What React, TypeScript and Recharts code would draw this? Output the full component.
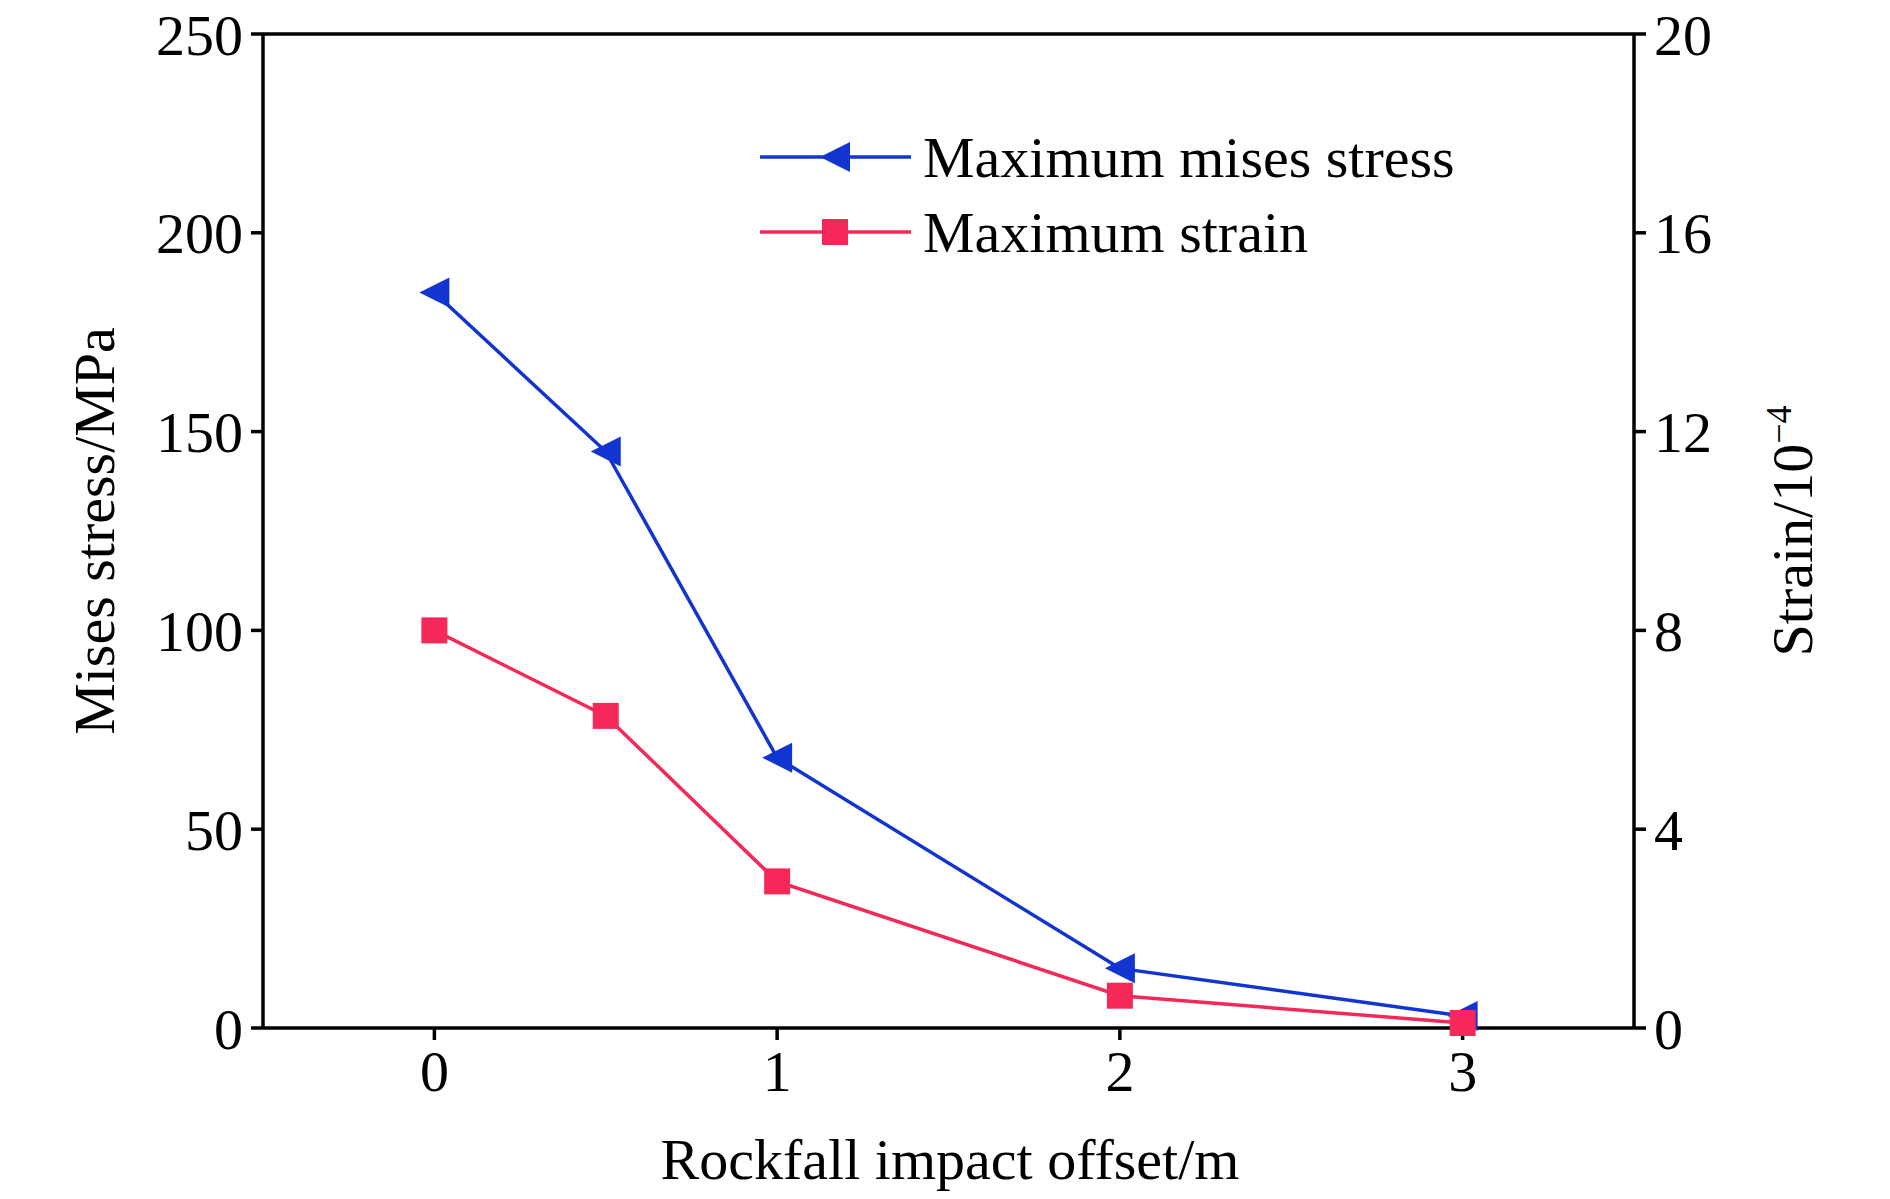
import React from 'react';
import { LineChart, Line, XAxis, YAxis, ReferenceLine } from 'recharts';

const offsets = [0, 0.5, 1, 2, 3];
const stress = [185, 145, 68, 15, 3];
const strain = [8, 6.28, 2.95, 0.65, 0.1];
const xTicks = [0, 1, 2, 3];
const leftTicks = [0, 50, 100, 150, 200, 250];
const rightTicks = [0, 4, 8, 12, 16, 20];

const data = offsets.map((x, i) => ({ x, stress: stress[i], strain: strain[i] }));

const BLUE = '#1234d0';
const RED = '#f5285a';
const FONT = '"Liberation Serif", "Times New Roman", serif';
const tickStyle = { fontFamily: FONT, fontSize: 58, fill: '#000' };

const Tri = (p: any) => {
  const { cx, cy } = p;
  if (cx == null || cy == null) return null;
  const s = 15;
  return <polygon points={`${cx - s},${cy} ${cx + s},${cy - s} ${cx + s},${cy + s}`} fill={BLUE} />;
};
const Sq = (p: any) => {
  const { cx, cy } = p;
  if (cx == null || cy == null) return null;
  return <rect x={cx - 13} y={cy - 13} width={26} height={26} fill={RED} />;
};

export default function App() {
  return (
    <div style={{ position: 'absolute', left: 0, top: 0, width: 1890, height: 1199, background: '#fff', fontFamily: FONT }}>
      <LineChart width={1890} height={1199} data={data} margin={{ top: 34, right: 0, bottom: 0, left: 0 }}>
        <XAxis dataKey="x" type="number" domain={[-0.5, 3.5]} ticks={xTicks} height={171}
          tick={tickStyle} tickSize={12} tickMargin={10} stroke="#000" strokeWidth={3.5} />
        <YAxis yAxisId="l" domain={[0, 250]} ticks={leftTicks} width={263}
          tick={tickStyle} tickSize={12} tickMargin={8} stroke="#000" strokeWidth={3.5} />
        <YAxis yAxisId="r" orientation="right" domain={[0, 20]} ticks={rightTicks} width={256}
          tick={tickStyle} tickSize={12} tickMargin={8} stroke="#000" strokeWidth={3.5} />
        <ReferenceLine yAxisId="l" y={250} stroke="#000" strokeWidth={3.5} />
        <Line yAxisId="l" dataKey="stress" stroke={BLUE} strokeWidth={3.5} dot={<Tri />} isAnimationActive={false} />
        <Line yAxisId="r" dataKey="strain" stroke={RED} strokeWidth={3.5} dot={<Sq />} isAnimationActive={false} />
      </LineChart>
      <div style={{ position: 'absolute', left: 94, top: 531, transform: 'translate(-50%,-50%) rotate(-90deg)', fontSize: 58, whiteSpace: 'nowrap' }}>Mises stress/MPa</div>
      <div style={{ position: 'absolute', left: 1792, top: 531, transform: 'translate(-50%,-50%) rotate(-90deg)', fontSize: 58, whiteSpace: 'nowrap' }}>Strain/10<sup style={{ fontSize: 36 }}>−4</sup></div>
      <div style={{ position: 'absolute', left: 950, top: 1159, transform: 'translate(-50%,-50%)', fontSize: 58, whiteSpace: 'nowrap' }}>Rockfall impact offset/m</div>
      <svg style={{ position: 'absolute', left: 0, top: 0 }} width={1890} height={300}>
        <line x1={760} x2={911} y1={157} y2={157} stroke={BLUE} strokeWidth={3.5} />
        <polygon points="820,157 850,142 850,172" fill={BLUE} />
        <line x1={760} x2={911} y1={232} y2={232} stroke={RED} strokeWidth={3.5} />
        <rect x={822} y={219} width={26} height={26} fill={RED} />
        <text x={923} y={177} fontSize={58} fontFamily={FONT}>Maximum mises stress</text>
        <text x={923} y={252} fontSize={58} fontFamily={FONT}>Maximum strain</text>
      </svg>
    </div>
  );
}
